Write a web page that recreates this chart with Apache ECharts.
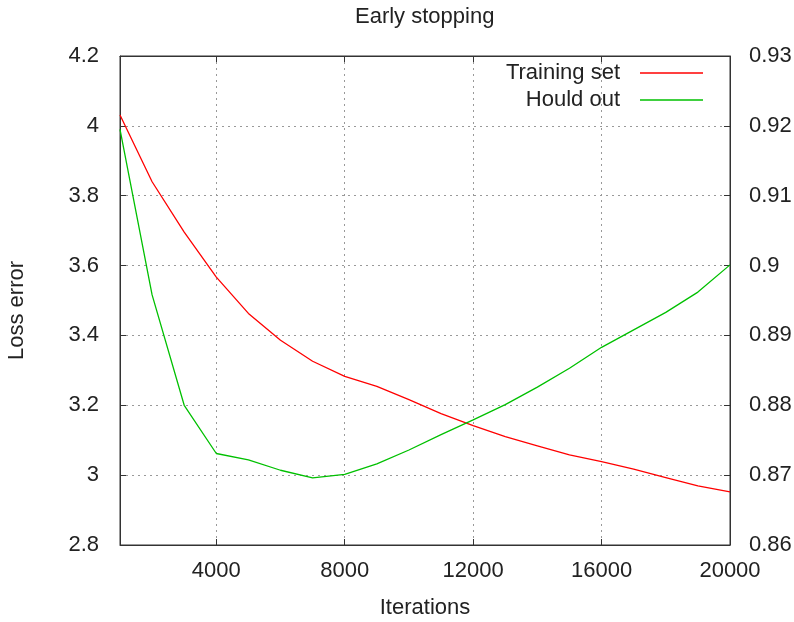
<!DOCTYPE html>
<html>
<head>
<meta charset="utf-8">
<script src="https://cdn.jsdelivr.net/npm/echarts@6/dist/echarts.min.js"></script>
<style>
  html, body { margin: 0; padding: 0; background: #fff; }
  #main { width: 794px; height: 622px; }
</style>
</head>
<body>
<div id="main"></div>
<script>
// data, one point every 1000 iterations
const iterations = [1000, 2000, 3000, 4000, 5000, 6000, 7000, 8000, 9000, 10000,
  11000, 12000, 13000, 14000, 15000, 16000, 17000, 18000, 19000, 20000];
const trainingSet = [4.031, 3.84, 3.696, 3.567, 3.463, 3.386, 3.326, 3.283, 3.254, 3.216,
  3.176, 3.142, 3.11, 3.084, 3.058, 3.039, 3.017, 2.993, 2.969, 2.952];
const houldOut = [0.9195, 0.8958, 0.880, 0.8731, 0.8722, 0.8707, 0.8696, 0.8701, 0.8716, 0.8736,
  0.8758, 0.8779, 0.8801, 0.8826, 0.8853, 0.8883, 0.8908, 0.8933, 0.8962, 0.9001];
const xTicks = [4000, 8000, 12000, 16000, 20000];

const font = 'Liberation Sans';
const textColor = '#222';
const fs = 22;

let myChart = echarts.init(document.getElementById('main'));

const pairs = (ys) => iterations.map((x, i) => [x, ys[i]]);

const legendItem = (name, top) => ({
	data: [name],
	right: 91,
	top: top,
	padding: 0,
	align: 'right',
	icon: 'rect',
	itemWidth: 63,
	itemHeight: 1.4,
	textStyle: { fontFamily: font, fontSize: fs, color: textColor, padding: [0, 15, 0, 0] }
});

let option = {
	backgroundColor: '#fff',
	animation: false,
	title: {
		text: 'Early stopping',
		left: 350,
		top: 1,
		textStyle: { fontFamily: font, fontSize: fs, fontWeight: 'normal', color: textColor }
	},
	legend: [legendItem('Training set', 62), legendItem('Hould out', 89)],
	grid: {
		left: 120,
		right: 64,
		top: 56,
		bottom: 77,
		outerBoundsMode: 'none',
		show: true,
		borderColor: '#333',
		borderWidth: 1
	},
	xAxis: [{
		type: 'value',
		min: 1000,
		max: 20000,
		name: 'Iterations',
		nameLocation: 'middle',
		nameGap: 52,
		nameTextStyle: { fontFamily: font, fontSize: fs, color: textColor },
		axisLine: { lineStyle: { color: '#333' } },
		axisTick: { inside: true, length: 6, customValues: xTicks, lineStyle: { color: '#333' } },
		axisLabel: {
			customValues: xTicks,
			margin: 15,
			formatter: (v) => String(v),
			fontFamily: font, fontSize: fs, color: textColor
		},
		splitLine: { show: true, lineStyle: { color: '#999', type: [2, 4] } }
	}, {
		type: 'value',
		position: 'top',
		min: 1000,
		max: 20000,
		axisLine: { lineStyle: { color: '#333' } },
		axisTick: { inside: true, length: 6, customValues: xTicks, lineStyle: { color: '#333' } },
		axisLabel: { show: false },
		splitLine: { show: false }
	}],
	yAxis: [{
		type: 'value',
		min: 2.8,
		max: 4.2,
		interval: 0.2,
		name: 'Loss error',
		nameLocation: 'middle',
		nameGap: 92,
		nameRotate: 90,
		nameTextStyle: { fontFamily: font, fontSize: fs, color: textColor, padding: [0, 0, 0, -20] },
		axisLine: { show: true, lineStyle: { color: '#333' } },
		axisTick: { show: true, inside: true, length: 6, lineStyle: { color: '#333' } },
		axisLabel: { margin: 21, fontFamily: font, fontSize: fs, color: textColor },
		splitLine: { show: true, lineStyle: { color: '#999', type: [2, 4] } }
	}, {
		type: 'value',
		min: 0.86,
		max: 0.93,
		interval: 0.01,
		position: 'right',
		axisLine: { show: true, lineStyle: { color: '#333' } },
		axisTick: { show: true, inside: true, length: 6, lineStyle: { color: '#333' } },
		axisLabel: { margin: 19, fontFamily: font, fontSize: fs, color: textColor },
		splitLine: { show: false }
	}],
	series: [{
		name: 'Training set',
		type: 'line',
		xAxisIndex: 0,
		yAxisIndex: 0,
		symbol: 'none',
		data: pairs(trainingSet),
		lineStyle: { color: '#ff0000', width: 1.3 },
		itemStyle: { color: '#ff0000' }
	}, {
		name: 'Hould out',
		type: 'line',
		xAxisIndex: 0,
		yAxisIndex: 1,
		symbol: 'none',
		data: pairs(houldOut),
		lineStyle: { color: '#00c000', width: 1.3 },
		itemStyle: { color: '#00c000' }
	}]
};

myChart.setOption(option);
</script>
</body>
</html>
